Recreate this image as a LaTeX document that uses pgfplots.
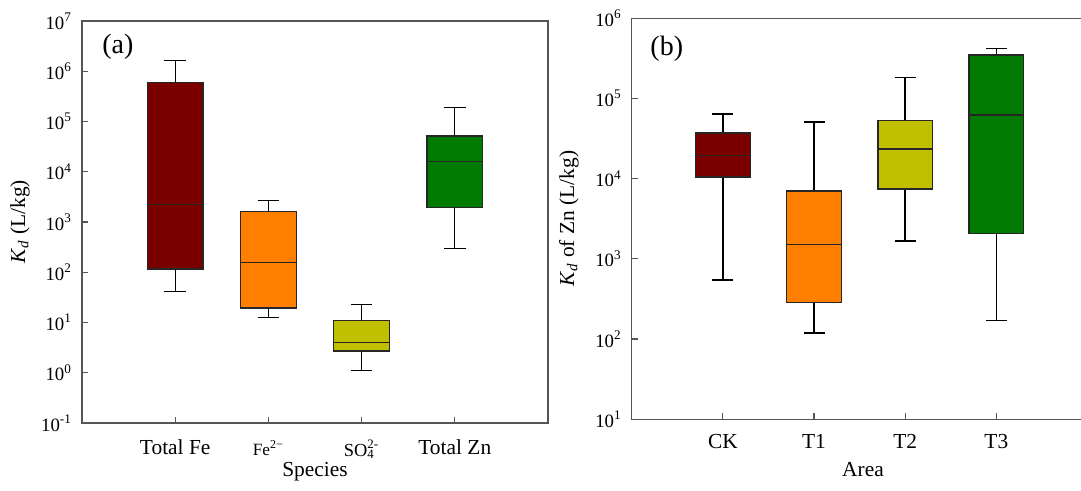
\documentclass[border=0pt]{standalone}
\usepackage{fontspec}
\setmainfont{Liberation Serif}
\usepackage{pgfplots}
\pgfplotsset{compat=1.18}

\definecolor{cDarkRed}{RGB}{122,0,0}
\definecolor{cOrange}{RGB}{255,128,0}
\definecolor{cOlive}{RGB}{192,192,0}
\definecolor{cGreen}{RGB}{0,122,0}
\definecolor{spine}{RGB}{85,85,85}

\newcommand{\Kd}{\textit{K}\textsubscript{\textit{d}}}
\newcommand{\dec}[1]{\textrm{10\textsuperscript{#1}}}

% one box: position, lower whisker, lower quartile, median, upper quartile, upper whisker, fill
\newcommand{\kdbox}[7]{%
  \pgfmathsetmacro{\kdBL}{#1-0.3}\pgfmathsetmacro{\kdBR}{#1+0.3}%
  \pgfmathsetmacro{\kdCL}{#1-0.115}\pgfmathsetmacro{\kdCR}{#1+0.115}%
  \edef\kdtmp{%
    \noexpand\addplot[kdwhisker] coordinates {(#1,#2) (#1,#3)};
    \noexpand\addplot[kdwhisker] coordinates {(#1,#5) (#1,#6)};
    \noexpand\addplot[kdwhisker] coordinates {(\kdCL,#2) (\kdCR,#2)};
    \noexpand\addplot[kdwhisker] coordinates {(\kdCL,#6) (\kdCR,#6)};
    \noexpand\addplot[kdboxstyle, fill=#7] coordinates {(\kdBL,#3) (\kdBR,#3) (\kdBR,#5) (\kdBL,#5)} -- cycle;
    \noexpand\addplot[kdmedian] coordinates {(\kdBL,#4) (\kdBR,#4)};
  }\kdtmp
}

\pgfplotsset{
  kdwhisker/.style={black, line width=0.55pt, mark=none},
  kdboxstyle/.style={draw=black!85, line width=0.7pt, mark=none},
  kdmedian/.style={black!85, line width=0.7pt, mark=none},
}

\begin{document}
\begin{tikzpicture}
% (a) partition coefficients by species
\begin{axis}[
  scale only axis, anchor=south west,
  at={(41pt,34pt)}, width=233pt, height=201pt,
  ymode=log,
  xmin=-1, xmax=4, ymin=1e-1, ymax=1e7,
  xtick={0,1,2,3},
  tick align=inside, xtick pos=bottom, ytick pos=left,
  major tick length=3pt,
  minor y tick style={draw=none},
  axis line style={spine, line width=0.7pt},
  tick style={spine, line width=0.6pt},
  yticklabel style={font=\fontsize{9.4}{10}\selectfont, xshift=-1.5pt},
  xticklabel style={font=\fontsize{10.7}{12}\selectfont, yshift=-5pt},
  ytick={1e-1,1e0,1e1,1e2,1e3,1e4,1e5,1e6,1e7},
  yticklabels={\dec{-1},\dec{0},\dec{1},\dec{2},\dec{3},\dec{4},\dec{5},\dec{6},\dec{7}},
  xticklabels={Total Fe,
    {\fontsize{8.6}{9}\selectfont Fe\textsuperscript{2−}},
    {\fontsize{9.2}{10}\selectfont SO\rlap{\textsubscript{4}}\textsuperscript{2-}},
    Total Zn},
  xlabel={Species},
  x label style={font=\fontsize{10.7}{12}\selectfont, at={(axis description cs:0.5,-0.12)}, anchor=center},
  ylabel={\Kd{} (L/kg)},
  y label style={font=\fontsize{10.7}{12}\selectfont, at={(axis description cs:-0.133,0.5)}, anchor=center},
]
\kdbox{0}{41}{115}{2200}{5.9e5}{1.65e6}{cDarkRed}
\kdbox{1}{12.5}{19.5}{155}{1600}{2700}{cOrange}
\kdbox{2}{1.13}{2.7}{4.0}{11}{22.6}{cOlive}
\kdbox{3}{300}{1930}{1.58e4}{5.1e4}{1.92e5}{cGreen}
\node[font=\fontsize{14}{16}\selectfont] at (axis description cs:0.077,0.935) {(a)};
\end{axis}

% (b) partition coefficient of Zn by area
\begin{axis}[
  scale only axis, anchor=south west,
  at={(315.85pt,35.85pt)}, width=227.9pt, height=200.5pt,
  ymode=log,
  xmin=-1, xmax=4, ymin=1e1, ymax=1e6,
  xtick={0,1,2,3},
  tick align=inside, xtick pos=bottom, ytick pos=left,
  major tick length=3pt,
  minor y tick style={draw=none},
  axis line style={spine, line width=0.7pt},
  tick style={spine, line width=0.6pt},
  yticklabel style={font=\fontsize{9.4}{10}\selectfont, xshift=-1.5pt},
  xticklabel style={font=\fontsize{10.7}{12}\selectfont, yshift=-4pt},
  ytick={1e1,1e2,1e3,1e4,1e5,1e6},
  yticklabels={\dec{1},\dec{2},\dec{3},\dec{4},\dec{5},\dec{6}},
  xticklabels={CK,T1,T2,T3},
  xlabel={Area},
  x label style={font=\fontsize{10.7}{12}\selectfont, at={(axis description cs:0.5075,-0.126)}, anchor=center},
  ylabel={\Kd{} of Zn (L/kg)},
  y label style={font=\fontsize{10.7}{12}\selectfont, at={(axis description cs:-0.1376,0.5)}, anchor=center},
  kdwhisker/.style={black, line width=0.8pt, mark=none},
]
\kdbox{0}{541}{1.05e4}{1.94e4}{3.7e4}{6.4e4}{cDarkRed}
\kdbox{1}{119}{288}{1520}{7000}{5.05e4}{cOrange}
\kdbox{2}{1670}{7400}{2.34e4}{5.3e4}{1.82e5}{cOlive}
\kdbox{3}{170}{2080}{6.2e4}{3.5e5}{4.2e5}{cGreen}
\node[font=\fontsize{14}{16}\selectfont] at (axis description cs:0.077,0.923) {(b)};
\end{axis}

\pgfresetboundingbox
\path[use as bounding box] (0,0) rectangle (540.5pt,245.5pt);
\end{tikzpicture}
\end{document}
